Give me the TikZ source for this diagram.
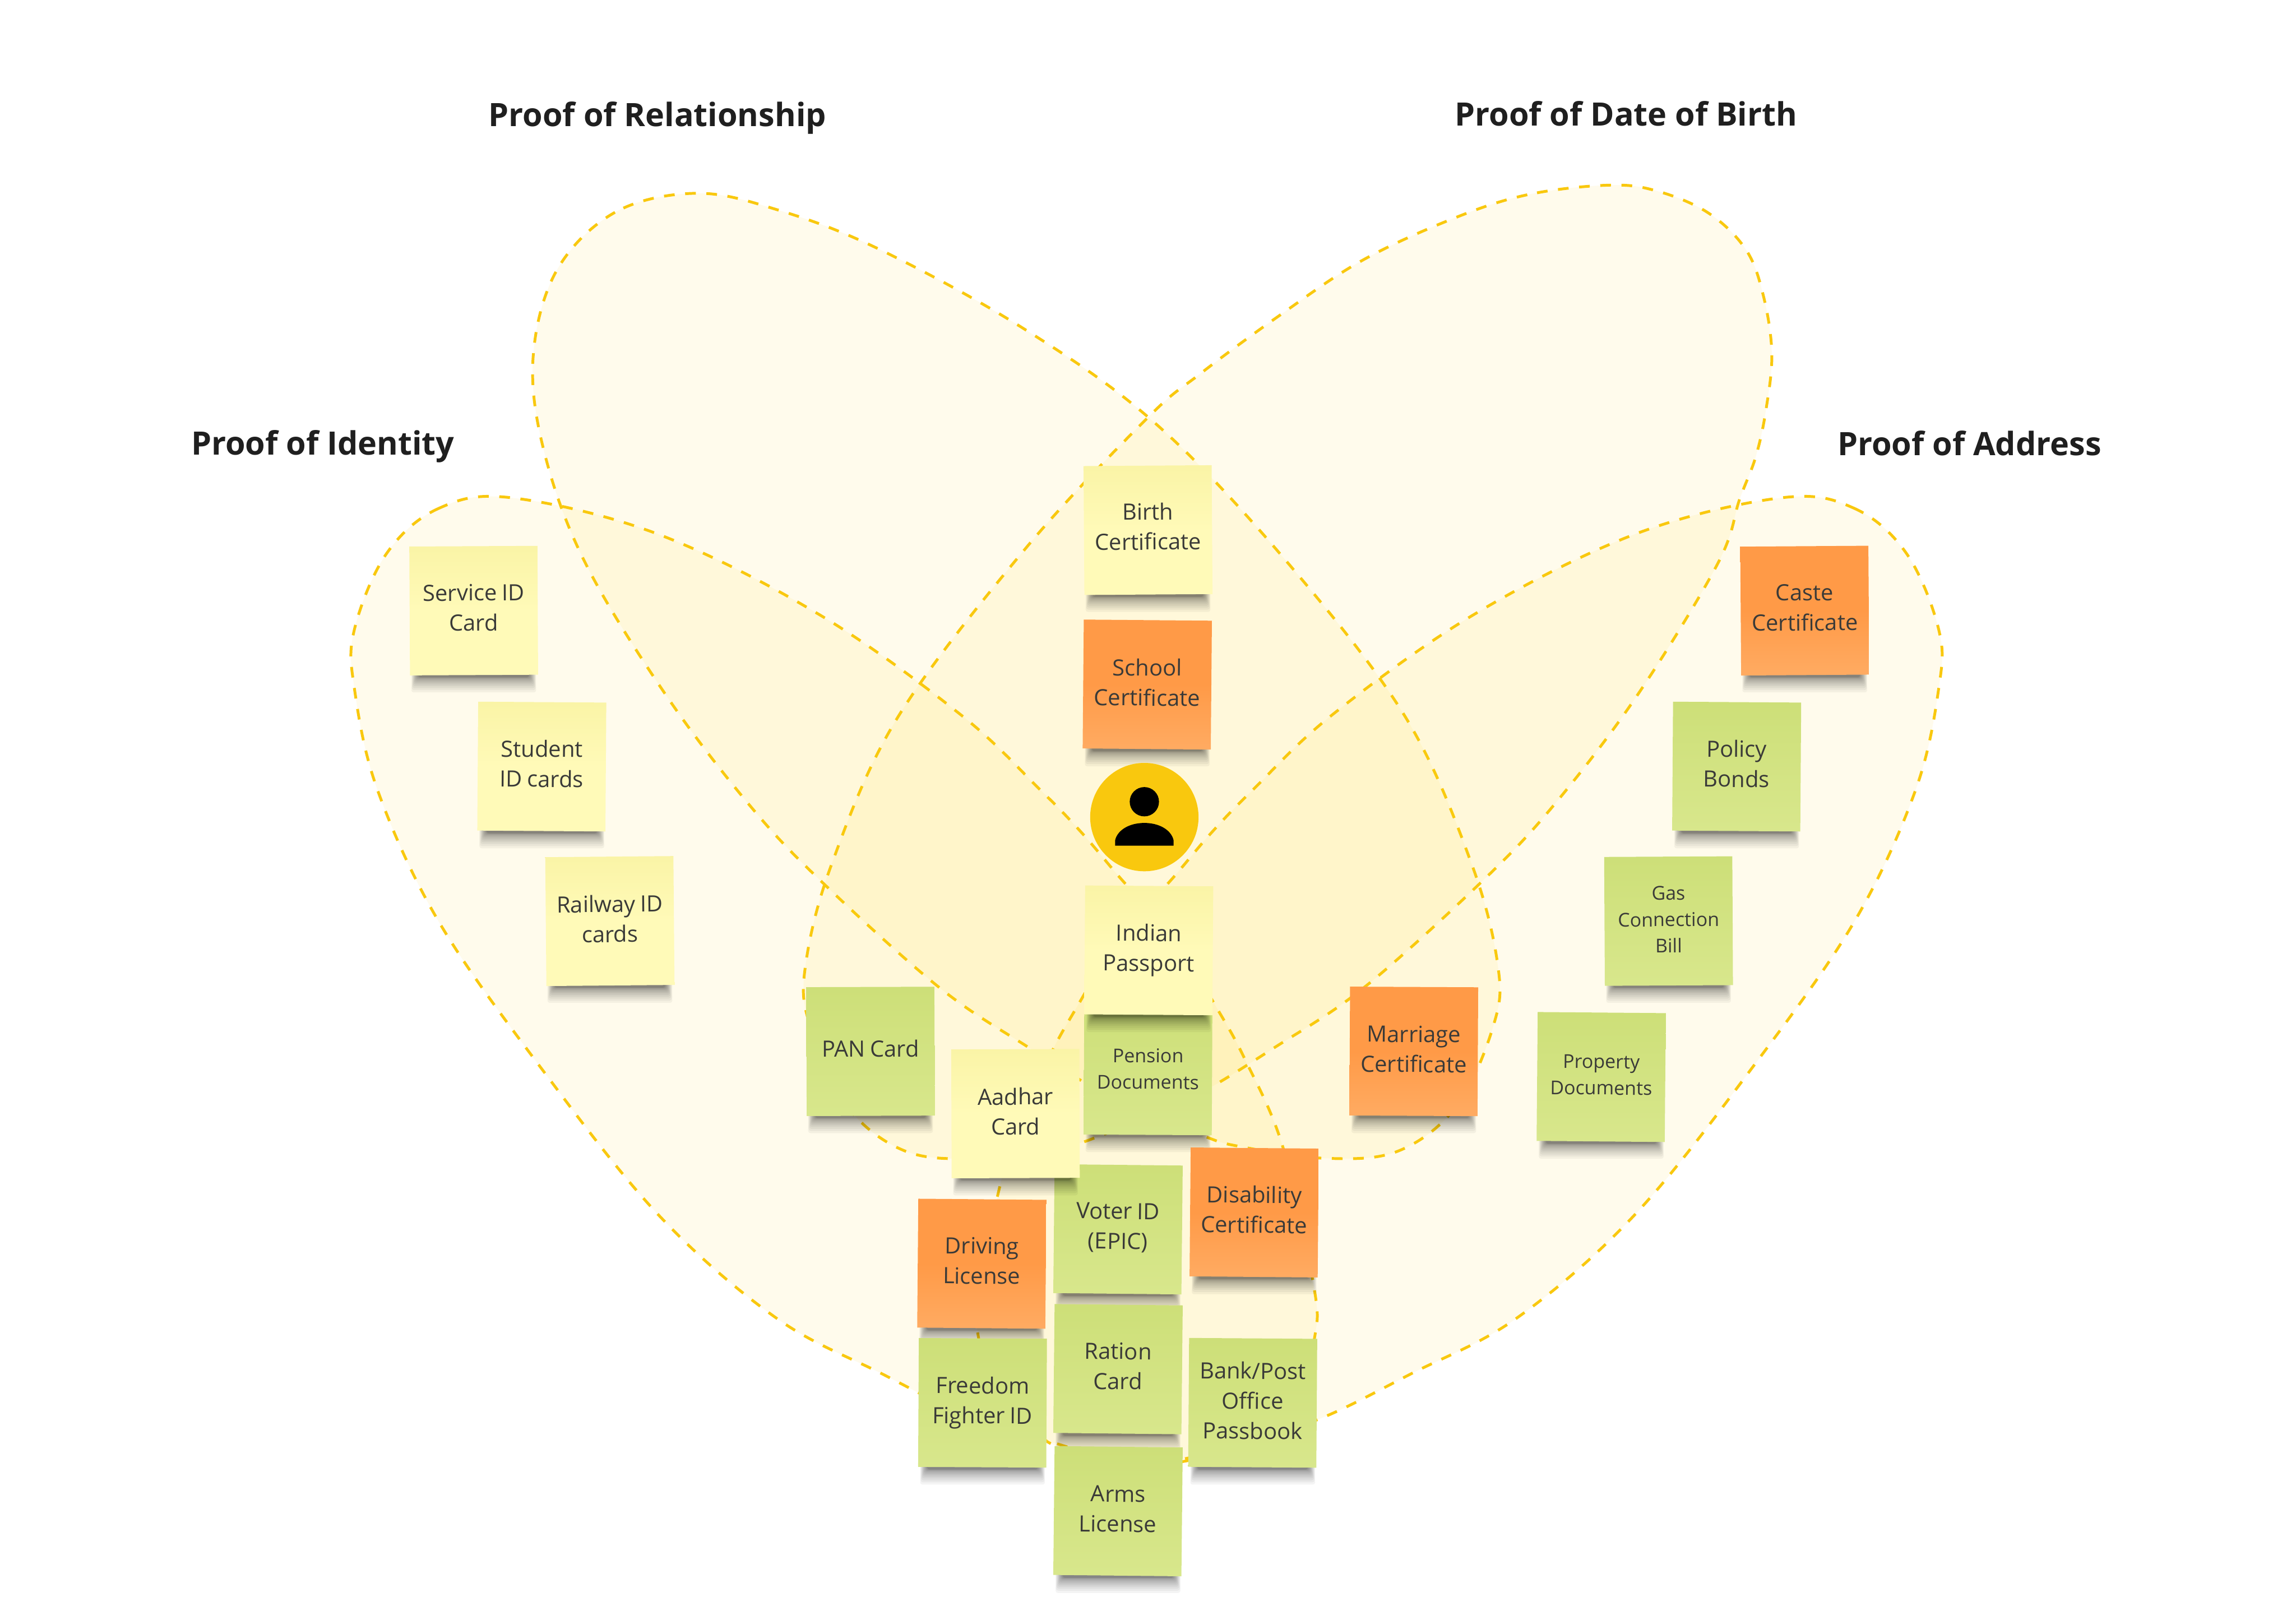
\documentclass[tikz,border=0pt]{standalone}
\usepackage{fontspec}
\setmainfont{Open Sans}
\definecolor{petal}{HTML}{F9C80E}
\definecolor{petalfill}{HTML}{FFD80E}
\definecolor{ink}{HTML}{3A3A38}
\definecolor{yt}{HTML}{FAF4A6}\definecolor{yb}{HTML}{FFFAB8}
\definecolor{ot}{HTML}{FF9A47}\definecolor{ob}{HTML}{FFAB62}
\definecolor{gt}{HTML}{CDDF78}\definecolor{gb}{HTML}{D8E78C}
\tikzset{
 petalshape/.style={draw=petal,line width=1.9pt,dash pattern=on 7.3pt off 7.2pt,fill=petalfill,fill opacity=.08,draw opacity=1},
 notebox/.style={minimum width=87.5pt,minimum height=88pt,inner sep=0pt,outer sep=0pt,align=center,text=ink,text width=84pt},
 ynote/.style={notebox,top color=yt,bottom color=yb,middle color=yb},
 onote/.style={notebox,top color=ot,bottom color=ob,middle color=ot},
 gnote/.style={notebox,top color=gt,bottom color=gb,middle color=gt!50!gb},
 titletext/.style={font=\fontsize{22}{28}\selectfont\bfseries,text=black!88},
}
\newcommand{\stick}[8]{%
 \foreach \i in {1,...,14}{\fill[black,opacity=.045,rounded corners=1.5pt]
   ({#2-37.5-5.5*(1-\i/14)},{#3+30}) rectangle ({#2+37.5+5.5*(1-\i/14)},{#3+45.5+12*(1-\i/14)*(1-\i/14)});}
 \node[#5,rotate=#4] (#1) at (#2,#3) {#6\selectfont #7\par\nointerlineskip\vbox to #8pt{}};}
\newcommand{\Fm}{\fontsize{15.3}{20.5}}
\newcommand{\Fs}{\fontsize{13}{18}}
\newcommand{\idpts}{(350,340)(300,347)(264,378)(242,430)(242,470)(258,540)(300,630)(370,730)(450,830)(530,900)(602,938)(665,969)(722,986)(756,996)(795,1000)(850,985)(885,950)(898,912)(897,877)(876,783)(850,723)(829,685)(797,632)(769,604)(739,569)(710,539)(656,488)(560,420)(450,365)}
\newcommand{\relpts}{(475,132)(420,145)(380,185)(364,245)(372,310)(400,385)(455,475)(512,550)(561,602)(641,674)(702,715)(760,750)(820,775)(847,783)(905,791)(955,786)(995,755)(1020,700)(1023,660)(1005,590)(960,490)(880,385)(790,290)(700,225)(600,170)(530,143)}
\newcommand{\dobpts}{(1097,126.5)(1043,133)(993,149)(930,178)(873,216)(820,255)(783,286)(700,375)(613,490)(568,590)(550,660)(553,700)(578,755)(618,786)(668,791)(726,783)(753,775)(813,750)(871,715)(932,674)(1012,602)(1061,550)(1118,475)(1173,385)(1188,341)(1199,312)(1206,280)(1210,241)(1204,201)(1192,170)(1166,145)(1130,130)}
\begin{document}
\begin{tikzpicture}[x=1pt,y=-1pt]
\useasboundingbox (0,0) rectangle (1568,1106.15);
\fill[white] (0,0) rectangle (1568,1106.15);
% petals
\draw[petalshape] plot[smooth cycle,tension=.6] coordinates {\relpts};
\draw[petalshape] plot[smooth cycle,tension=.6] coordinates {\dobpts};
\draw[petalshape] plot[smooth cycle,tension=.6] coordinates {\idpts};
\begin{scope}[xshift=1566pt,xscale=-1]
\draw[petalshape] plot[smooth cycle,tension=.6] coordinates {\idpts};
\end{scope}
% titles
\node[titletext] (t1) at (449,80.5) {Proof of Relationship};
\node[titletext] (t2) at (1110.5,77.5) {Proof of Date of Birth};
\node[titletext] (t3) at (220.5,305) {Proof of Identity};
\node[titletext] (t4) at (1345,302.6) {Proof of Address};
% notes
\stick{birth}{784}{362}{.4}{ynote}{\Fm}{Birth\\Certificate}{5}
\stick{school}{783.5}{467.5}{-.5}{onote}{\Fm}{School\\Certificate}{3}
\stick{service}{323.5}{417}{.3}{ynote}{\Fm}{Service ID\\Card}{4}
\stick{student}{370}{523.5}{-.4}{ynote}{\Fm}{Student\\ID cards}{4}
\stick{railway}{416.5}{629}{.5}{ynote}{\Fm}{Railway ID\\cards}{3}
\stick{caste}{1232.5}{417}{.4}{onote}{\Fm}{Caste\\Certificate}{4}
\stick{policy}{1186}{523.5}{-.4}{gnote}{\Fm}{Policy\\Bonds}{4}
\stick{gas}{1139.5}{629}{.3}{gnote}{\Fs}{Gas\\Connection\\Bill}{2}
\stick{property}{1093.5}{735.5}{-.5}{gnote}{\Fs}{Property\\Documents}{3}
\stick{pension}{784}{731}{-.3}{gnote}{\Fs}{Pension\\Documents}{2}
\stick{indian}{784.5}{649}{-.4}{ynote}{\Fm}{Indian\\Passport}{0}
\stick{pan}{594.5}{718}{.2}{gnote}{\Fm}{PAN Card}{4}
\stick{voter}{763.5}{839.5}{-.6}{gnote}{\Fm}{Voter ID\\(EPIC)}{2}
\stick{aadhar}{693.5}{760.5}{.2}{ynote}{\Fm}{Aadhar\\Card}{3}
\stick{marriage}{965.5}{718}{-.3}{onote}{\Fm}{Marriage\\Certificate}{3}
\stick{disability}{856.5}{828}{-.5}{onote}{\Fm}{Disability\\Certificate}{4}
\stick{driving}{670.5}{863}{-.5}{onote}{\Fm}{Driving\\License}{4}
\stick{ration}{763.5}{935}{-.6}{gnote}{\Fm}{Ration\\Card}{4}
\stick{freedom}{671}{958}{-.3}{gnote}{\Fm}{Freedom\\Fighter ID}{0}
\stick{bank}{855.5}{958}{-.4}{gnote}{\Fm}{Bank/Post\\Office\\Passbook}{3}
\stick{arms}{763.5}{1032}{-.6}{gnote}{\Fm}{Arms\\License}{3}
% person icon
\node[circle,fill=petal,minimum size=74pt,inner sep=0pt] (avatar) at (781.5,558) {};
\fill[black] (781.5,547.5) circle (10pt);
\fill[black] (761.5,577.5) -- (761.5,574) .. controls (763,567) and (771,562) .. (781.5,562) .. controls (792,562) and (800,567) .. (801.5,574) -- (801.5,577.5) -- cycle;
\end{tikzpicture}
\end{document}
